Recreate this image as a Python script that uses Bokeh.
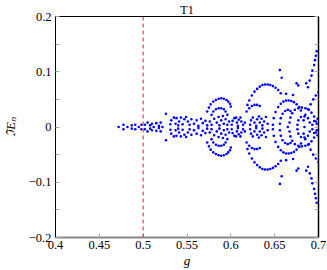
from bokeh.plotting import figure
from bokeh.models import (LinearAxis, FixedTicker, CustomJSTickFormatter, Span, Range1d,
                          CustomLabelingPolicy)
from bokeh.embed import file_html
from bokeh.resources import INLINE

# ---------------- data ----------------
x_ticks = [0.4, 0.45, 0.5, 0.55, 0.6, 0.65, 0.7]
y_ticks = [-0.2, -0.1, 0.0, 0.1, 0.2]
y_minor = [-0.15, -0.05, 0.05, 0.15]
threshold_g = 0.5

g_axis = [0.472, 0.482, 0.495, 0.512, 0.522, 0.665, 0.684]
im_axis = [0.0, 0.0, 0.0, 0.0, 0.0, 0.0, 0.0]

g_a = [0.4775, 0.487, 0.491, 0.498]
up_a = [0.004, 0.003, 0.004, 0.004]
dn_a = [-0.004, -0.003, -0.004, -0.004]

g_b = [0.502, 0.505, 0.508, 0.510, 0.515, 0.518, 0.520, 0.526]
up_b = [0.004, 0.008, 0.003, 0.006, 0.007, 0.002, 0.008, 0.024]
dn_b = [-0.004, -0.008, -0.003, -0.006, -0.007, -0.002, -0.008, -0.024]

g_c = [0.531, 0.532, 0.535, 0.537, 0.538, 0.540, 0.541, 0.543, 0.545, 0.547, 0.549, 0.551, 0.553, 0.555]
up_c = [0.005, 0.012, 0.017, 0.006, 0.016, 0.003, 0.010, 0.017, 0.005, 0.014, 0.018, 0.010, 0.004, 0.014]
dn_c = [-0.005, -0.012, -0.017, -0.006, -0.016, -0.003, -0.010, -0.017, -0.005, -0.014, -0.018, -0.010, -0.004, -0.014]

g_d = [0.558, 0.561, 0.563, 0.566, 0.568, 0.571, 0.573]
up_d = [0.006, 0.012, 0.002, 0.015, 0.007, 0.011, 0.003]
dn_d = [-0.006, -0.012, -0.002, -0.015, -0.007, -0.011, -0.003]

g_e1 = [0.573, 0.575, 0.577, 0.580, 0.583, 0.586, 0.589, 0.592, 0.595, 0.597, 0.599, 0.600]
up_e1 = [0.028, 0.035, 0.041, 0.046, 0.049, 0.051, 0.052, 0.051, 0.049, 0.046, 0.042, 0.037]
dn_e1 = [-0.028, -0.035, -0.041, -0.046, -0.049, -0.051, -0.052, -0.051, -0.049, -0.046, -0.042, -0.037]

g_e2 = [0.578, 0.580, 0.583, 0.586, 0.589, 0.592, 0.594, 0.596,
        0.576, 0.578, 0.581, 0.584, 0.586, 0.587, 0.589, 0.591, 0.592, 0.594, 0.596, 0.598]
up_e2 = [0.022, 0.028, 0.032, 0.034, 0.034, 0.032, 0.028, 0.022,
         0.010, 0.004, 0.015, 0.008, 0.018, 0.003, 0.012, 0.020, 0.006, 0.014, 0.004, 0.010]
dn_e2 = [-0.022, -0.028, -0.032, -0.034, -0.034, -0.032, -0.028, -0.022,
         -0.010, -0.004, -0.015, -0.008, -0.018, -0.003, -0.012, -0.020, -0.006, -0.014, -0.004, -0.010]

g_f = [0.601, 0.602, 0.604, 0.606, 0.607, 0.608, 0.609, 0.611, 0.612, 0.614, 0.616]
up_f = [0.004, 0.011, 0.016, 0.017, 0.008, 0.002, 0.013, 0.017, 0.010, 0.004, 0.008]
dn_f = [-0.004, -0.011, -0.016, -0.017, -0.008, -0.002, -0.013, -0.017, -0.010, -0.004, -0.008]

g_g1 = [0.619, 0.621, 0.624, 0.627, 0.630, 0.633, 0.636, 0.639, 0.642, 0.645, 0.648, 0.651, 0.654, 0.657]
up_g1 = [0.040, 0.048, 0.057, 0.064, 0.069, 0.073, 0.076, 0.077, 0.077, 0.076, 0.074, 0.071, 0.067, 0.061]
dn_g1 = [-0.040, -0.048, -0.057, -0.064, -0.069, -0.073, -0.076, -0.077, -0.077, -0.076, -0.074, -0.071, -0.067, -0.061]

g_g2 = [0.618, 0.621, 0.624, 0.627, 0.630, 0.633,
        0.622, 0.623, 0.625, 0.627, 0.629, 0.630, 0.632, 0.633, 0.635, 0.636, 0.638, 0.640, 0.642]
up_g2 = [0.028, 0.034, 0.038, 0.040, 0.040, 0.038,
         0.004, 0.012, 0.017, 0.008, 0.002, 0.014, 0.019, 0.008, 0.015, 0.003, 0.010, 0.018, 0.006]
dn_g2 = [-0.028, -0.034, -0.038, -0.040, -0.040, -0.038,
         -0.004, -0.012, -0.017, -0.008, -0.002, -0.014, -0.019, -0.008, -0.015, -0.003, -0.010, -0.018, -0.006]

g_h1 = [0.648, 0.649, 0.651, 0.654, 0.657, 0.660, 0.663, 0.666, 0.669, 0.672, 0.675, 0.678, 0.680,
        0.656, 0.657, 0.659, 0.662, 0.665, 0.668]
up_h1 = [0.004, 0.016, 0.027, 0.036, 0.042, 0.046, 0.048, 0.048, 0.047, 0.045, 0.041, 0.036, 0.030,
         0.006, 0.016, 0.024, 0.029, 0.031, 0.029]
dn_h1 = [-0.004, -0.016, -0.027, -0.036, -0.042, -0.046, -0.048, -0.048, -0.047, -0.045, -0.041, -0.036, -0.030,
         -0.006, -0.016, -0.024, -0.029, -0.031, -0.029]

g_h2 = [0.667, 0.668, 0.670, 0.673, 0.677, 0.681, 0.685, 0.689, 0.692, 0.695, 0.697,
        0.676, 0.677, 0.680, 0.684, 0.688, 0.690]
up_h2 = [0.008, 0.017, 0.025, 0.031, 0.034, 0.035, 0.034, 0.031, 0.026, 0.019, 0.010,
         0.004, 0.012, 0.018, 0.019, 0.016, 0.008]
dn_h2 = [-0.008, -0.017, -0.025, -0.031, -0.034, -0.035, -0.034, -0.031, -0.026, -0.019, -0.010,
         -0.004, -0.012, -0.018, -0.019, -0.016, -0.008]

g_h3 = [0.683, 0.685, 0.688, 0.691, 0.694, 0.697, 0.700, 0.693, 0.695, 0.698, 0.699]
up_h3 = [0.012, 0.022, 0.032, 0.041, 0.050, 0.057, 0.063, 0.004, 0.011, 0.006, 0.015]
dn_h3 = [-0.012, -0.022, -0.032, -0.041, -0.050, -0.057, -0.063, -0.004, -0.011, -0.006, -0.015]

g_h4 = [0.656, 0.658, 0.663, 0.671, 0.675, 0.677, 0.686, 0.688,
        0.690, 0.692, 0.693, 0.695, 0.696, 0.697, 0.698]
up_h4 = [0.103, 0.089, 0.060, 0.058, 0.079, 0.075, 0.079, 0.072,
         0.084, 0.093, 0.102, 0.112, 0.121, 0.129, 0.137]
dn_h4 = [-0.103, -0.089, -0.060, -0.058, -0.079, -0.075, -0.079, -0.072,
         -0.084, -0.093, -0.102, -0.112, -0.121, -0.129, -0.137]

series = [
    (g_a, up_a, dn_a), (g_b, up_b, dn_b), (g_c, up_c, dn_c), (g_d, up_d, dn_d),
    (g_e1, up_e1, dn_e1), (g_e2, up_e2, dn_e2), (g_f, up_f, dn_f),
    (g_g1, up_g1, dn_g1), (g_g2, up_g2, dn_g2),
    (g_h1, up_h1, dn_h1), (g_h2, up_h2, dn_h2), (g_h3, up_h3, dn_h3), (g_h4, up_h4, dn_h4),
]

# ---------------- figure ----------------
SERIF = "Liberation Serif, serif"
TXT = "black"
TICK = "#a8a8a8"
p = figure(width=327, height=270, x_range=Range1d(0.4, 0.7), y_range=Range1d(-0.2, 0.2),
           output_backend="svg", toolbar_location=None,
           min_border_left=53, min_border_right=9, min_border_top=0, min_border_bottom=0,
           title="T1")
p.title.align = "center"
p.title.text_font = SERIF
p.title.text_font_style = "normal"
p.title.text_font_size = "12px"
p.title.text_color = TXT
p.title.standoff = 0
p.title.offset = 0
p.grid.visible = False
p.outline_line_color = "black"
p.outline_line_width = 1
p.background_fill_color = "white"
p.border_fill_color = "white"

fmt = CustomJSTickFormatter(code="""
    const s = (Math.round(tick * 100) / 100).toString();
    return s.replace('-', '\u2212');
""")

xa = p.xaxis[0]
xa.ticker = FixedTicker(ticks=x_ticks)
xa.formatter = fmt
xa.axis_label = "g"
xa.axis_label_text_font = SERIF
xa.axis_label_text_font_style = "italic"
xa.axis_label_text_font_size = "13px"
xa.axis_label_text_color = TXT
xa.axis_label_standoff = 1
xa.major_label_text_font = SERIF
xa.major_label_text_font_size = "12.5px"
xa.major_label_text_color = TXT
xa.major_label_standoff = 3
xa.major_tick_in = 4
xa.major_tick_out = 0
xa.major_tick_line_color = TICK
xa.minor_tick_line_color = None
xa.axis_line_color = "#888888"
xa.axis_line_width = 2

ya = p.yaxis[0]
ya.ticker = FixedTicker(ticks=y_ticks, minor_ticks=y_minor)
ya.formatter = fmt
ya.axis_label = "ℑEₙ"
ya.axis_label_text_font = SERIF
ya.axis_label_text_font_style = "italic"
ya.axis_label_text_font_size = "12.5px"
ya.axis_label_text_color = TXT
ya.axis_label_standoff = 8
ya.major_label_text_font = SERIF
ya.major_label_text_font_size = "12.5px"
ya.major_label_text_color = TXT
ya.major_label_standoff = 4
ya.major_tick_in = 4
ya.major_tick_out = 0
ya.minor_tick_in = 4
ya.minor_tick_out = 0
ya.major_tick_line_color = TICK
ya.minor_tick_line_color = TICK
ya.axis_line_color = "black"

right = LinearAxis(ticker=FixedTicker(ticks=y_ticks, minor_ticks=y_minor),
                   major_label_policy=CustomLabelingPolicy(code="return []"),
                   major_label_text_font_size="1px", major_label_standoff=0,
                   major_tick_in=4, major_tick_out=0, minor_tick_in=4, minor_tick_out=0,
                   major_tick_line_color=TICK, minor_tick_line_color=TICK,
                   axis_line_color="black", axis_line_width=1.5)
p.add_layout(right, "right")

p.add_layout(Span(location=threshold_g, dimension="height", line_color="#ee2222",
                  line_dash="4 3", line_width=1))

BLUE = "#0000ff"
for g, up, dn in series:
    p.scatter(g, up, size=2.6, fill_color=BLUE, line_color=None)
    p.scatter(g, dn, size=2.6, fill_color=BLUE, line_color=None)
p.scatter(g_axis, im_axis, size=2.6, fill_color=BLUE, line_color=None)

open("out.html", "w").write(file_html(p, INLINE))
